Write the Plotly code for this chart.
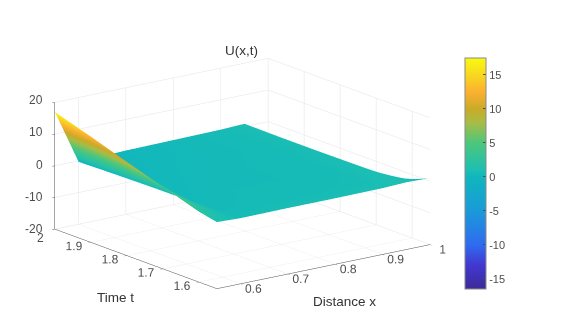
import plotly.graph_objects as go

# grid
distance_x = [0.55, 0.6, 0.7, 0.8, 0.9, 0.95, 1.0]
time_t = [2.0, 1.9, 1.8, 1.7, 1.6, 1.55]

u_t200 = [17.0, -0.3, 0.2, 0.4, 0.6, 0.9, -16.0]
u_t190 = [13.4, 0.0, 0.3, 0.4, 0.6, 0.8, -11.7]
u_t180 = [9.6, 0.2, 0.4, 0.5, 0.6, 0.8, -8.5]
u_t170 = [5.9, 0.3, 0.5, 0.5, 0.6, 0.9, -4.2]
u_t160 = [2.2, 0.5, 0.6, 0.6, 0.7, 1.0, -1.6]
u_t155 = [1.0, 0.7, 0.8, 0.8, 0.9, 1.2, 1.0]
u_values = [u_t200, u_t190, u_t180, u_t170, u_t160, u_t155]

c_min = -16.5
c_max = 17.5
color_values = [-16.5, -13, -10, -5, 0, 1, 5, 8, 10, 12.5, 15, 17.5]
color_names = ["#3b2a98", "#4238d0", "#2f6bf0", "#1a9ad8", "#0fb6bd", "#1cbfb2", "#4cc77c",
               "#a9bc45", "#c9ab28", "#fcb030", "#f8d820", "#f8fa10"]
colorscale = [[(v - c_min) / (c_max - c_min), c] for v, c in zip(color_values, color_names)]

x_ticks = [0.6, 0.7, 0.8, 0.9, 1]
t_ticks = [1.6, 1.7, 1.8, 1.9, 2]
t_labels = ["1.6", "1.7", "1.8", "1.9", " "]
z_ticks = [-20, -10, 0, 10, 20]
bar_ticks = [-15, -10, -5, 0, 5, 10, 15]
bar_labels = ["-15", "-10", "-5", "0", "5", "10", "15"]

TEXT = "#4d4d4d"
GRID = "#e4e4e4"
FONT = "Liberation Sans"
W = 574
H = 312
PAGE_OFFSET = 8  # the page body margin moves the figure by this much

fig = go.Figure(
    go.Surface(
        x=distance_x,
        y=time_t,
        z=u_values,
        colorscale=colorscale,
        cmin=c_min,
        cmax=c_max,
        lighting=dict(ambient=1, diffuse=0, specular=0, roughness=1, fresnel=0),
        hoverinfo="skip",
        colorbar=dict(
            x=(465 - PAGE_OFFSET) / W,
            xanchor="left",
            y=(H - 289 + PAGE_OFFSET) / H,
            yanchor="bottom",
            len=231 / H,
            thickness=21,
            tickvals=bar_ticks,
            ticktext=bar_labels,
            ticks="inside",
            ticklen=3,
            tickcolor=TEXT,
            tickfont=dict(family=FONT, size=11, color=TEXT),
            outlinecolor="#8a8a8a",
            outlinewidth=1,
            xpad=0,
            ypad=0,
        ),
    )
)

axis_style = dict(
    showbackground=False,
    gridcolor=GRID,
    gridwidth=1,
    showline=True,
    linecolor=TEXT,
    linewidth=1,
    zeroline=False,
    showspikes=False,
    ticks="outside",
    ticklen=3,
    tickcolor=TEXT,
    tickangle=0,
    tickfont=dict(family=FONT, size=12, color=TEXT),
    title=dict(text=""),
)

fig.update_layout(
    width=W,
    height=H,
    margin=dict(l=0, r=0, t=0, b=0),
    paper_bgcolor="white",
    showlegend=False,
    scene=dict(
        domain=dict(x=[0, 0.817], y=[0, 0.939]),
        aspectmode="manual",
        aspectratio=dict(x=1.82, y=1.844, z=0.90),
        camera=dict(
            projection=dict(type="orthographic"),
            eye=dict(x=-0.9, y=-1.2, z=0.43),
            up=dict(x=0, y=0, z=1),
            center=dict(x=0, y=0, z=0),
        ),
        xaxis=dict(axis_style, range=[0.55, 1], tickvals=x_ticks),
        yaxis=dict(axis_style, range=[1.55, 2], tickvals=t_ticks, ticktext=t_labels),
        zaxis=dict(axis_style, range=[-20, 20], tickvals=z_ticks, showticklabels=False),
    ),
)


def add_text(label, px, py, size, color, xanchor="center"):
    # px, py are pixel positions in the photographed page
    fig.add_annotation(
        text=label,
        x=(px - PAGE_OFFSET) / W,
        y=1 - (py - PAGE_OFFSET) / H,
        xref="paper",
        yref="paper",
        xanchor=xanchor,
        yanchor="middle",
        showarrow=False,
        font=dict(family=FONT, size=size, color=color),
    )


add_text("U(x,t)", 241, 51, 13.5, "#333333")
add_text("Time t", 115, 297, 13.5, "#333333")
add_text("Distance x", 344, 301, 13.5, "#333333")

# labels that the 3D axis would put on top of each other at the left corner
for z in z_ticks:
    add_text(str(z), 45, 164.5 - 3.22 * z, 12, TEXT, xanchor="right")
add_text("2", 40, 238, 12, TEXT)

fig.write_html("out.html")
